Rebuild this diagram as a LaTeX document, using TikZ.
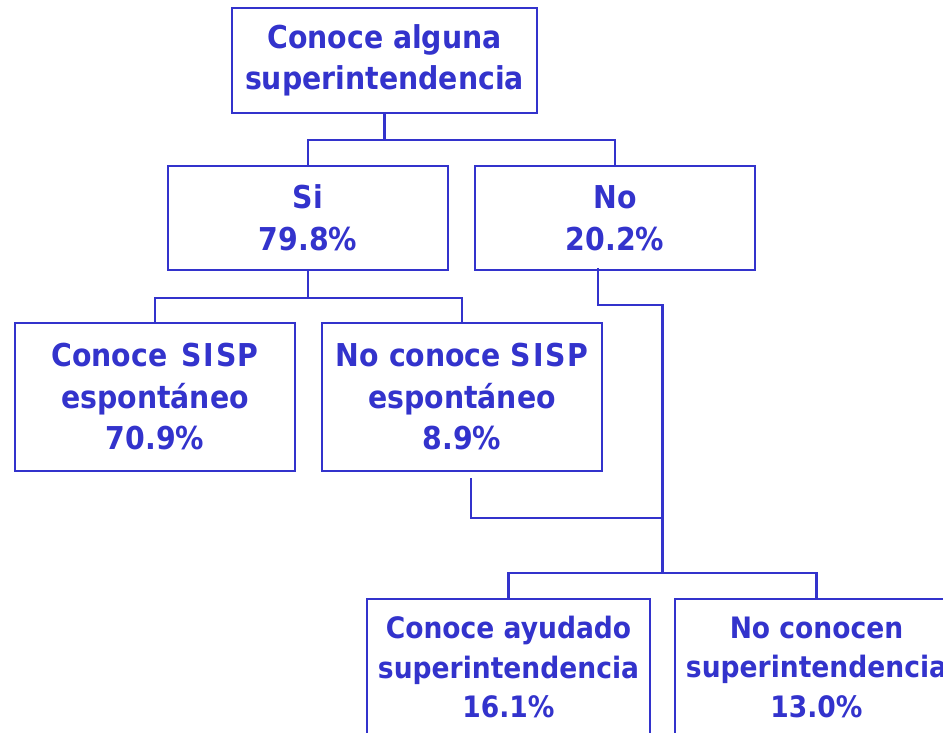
\documentclass[tikz,border=0pt]{standalone}
\usepackage{fontspec}
\usetikzlibrary{calc}
\newfontfamily\boxfont{DejaVu Sans Bold}[FakeStretch=0.9]
\definecolor{bl}{RGB}{51,51,204}
\begin{document}
\begin{tikzpicture}[x=1pt,y=-1pt,
  box/.style={draw=bl, line width=2.2pt, text=bl, align=center, inner sep=0pt,
    font=\boxfont\fontsize{31.5}{41.5}\selectfont},
  smallbox/.style={box, font=\boxfont\fontsize{29.5}{39.5}\selectfont},
  conn/.style={draw=bl, line width=2.2pt}]
\useasboundingbox (0,0) rectangle (943,733);
\node[box, minimum width=305pt, minimum height=105pt] (top) at (384.5,60.5) {Conoce alguna\\superintendencia};
\node[box, minimum width=280pt, minimum height=104pt] (si) at (308,218) {Si\\79.8\%};
\node[box, minimum width=280pt, minimum height=104pt] (no) at (615,218) {No\\20.2\%};
\node[box, minimum width=280pt, minimum height=148pt] (cs) at (155,397) {Conoce\ \kern4pt S\kern2pt I\kern2pt S\kern1pt P\\espont\'aneo\\70.9\%};
\node[box, minimum width=280pt, minimum height=148pt] (ncs) at (462,397) {No conoce S\kern2pt I\kern2pt S\kern1pt P\\espont\'aneo\\8.9\%};
\node[smallbox, minimum width=283pt, minimum height=136pt] (ca) at (508.5,667) {Conoce ayudado\\superintendencia\\16.1\%};
\node[smallbox, minimum width=283pt, minimum height=136pt] (nc) at (816.5,667) {No conocen\\superintendencia\\13.0\%};
% top level
\draw[conn] (top.south) -- ++(0,26) coordinate (tj);
\draw[conn] (si.north) |- (tj) -| (no.north);
% Si children
\draw[conn] (si.south) -- ++(0,27) coordinate (sj);
\draw[conn] (cs.north) |- (sj) -| (ncs.north);
% bottom junction
\coordinate (bj) at ($(ca.north)!0.5!(nc.north)+(0,-25)$);
\draw[conn] (ca.north) |- (bj) -| (nc.north);
% No branch
\coordinate (nstart) at ($(no.south)+(-17,-3)$);
\draw[conn] (nstart) -- ++(0,37) -| (bj);
% No conoce SISP branch
\coordinate (nsend) at ($(ncs.south)+(9,6)$);
\draw[conn] (nsend) -- ++(0,40) -| (bj);
\end{tikzpicture}
\end{document}
